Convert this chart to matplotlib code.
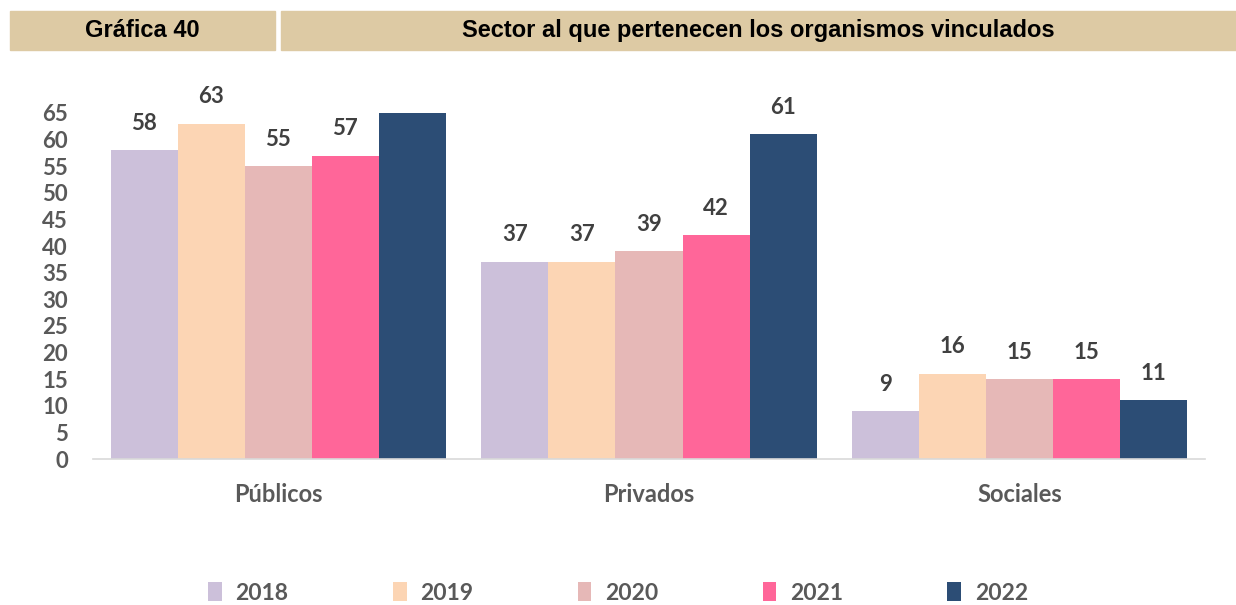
import numpy as np
import matplotlib.pyplot as plt
from matplotlib.patches import Rectangle

# sector data per year
sectores = ['Públicos', 'Privados', 'Sociales']
anios = ['2018', '2019', '2020', '2021', '2022']
v2018 = [58, 37, 9]
v2019 = [63, 37, 16]
v2020 = [55, 39, 15]
v2021 = [57, 42, 15]
v2022 = [65, 61, 11]
# the 2022 public bar carries no value label
sin_etiqueta = [(4, 0)]

colores = ['#CCC0DA', '#FCD5B4', '#E6B8B7', '#FF6699', '#2C4D75']
series = [v2018, v2019, v2020, v2021, v2022]

font = 'Lato'
gris = '#595959'

fig = plt.figure(figsize=(12.36, 6.05), dpi=100)

# header boxes
W, H = 1236.0, 605.0
def caja(x0, x1, texto):
    fig.patches.append(Rectangle((x0 / W, 1 - 50 / H), (x1 - x0) / W, 39 / H,
                                 transform=fig.transFigure, color='#DDCAA4', zorder=0))
    fig.text((x0 + x1) / 2 / W, 1 - 30.5 / H, texto, ha='center', va='center',
             fontsize=17, fontweight='bold', family='Liberation Sans', color='black')

caja(10, 275, 'Gráfica 40')
caja(281, 1236, 'Sector al que pertenecen los organismos vinculados')

ax = fig.add_axes([93 / W, (H - 459) / H, (1205 - 93) / W, (459 - 113) / H])

x = np.arange(len(sectores))
ancho = 0.181
for i, (vals, c) in enumerate(zip(series, colores)):
    pos = x + (i - 2) * ancho
    ax.bar(pos, vals, width=ancho, color=c, label=anios[i], zorder=2)
    for j, v in enumerate(vals):
        if (i, j) in sin_etiqueta:
            continue
        ax.annotate(str(v), (pos[j], v), xytext=(0, 19.5), textcoords='offset points',
                    ha='center', va='center', fontsize=16, fontweight='bold',
                    family=font, color='#404040', annotation_clip=False)

ax.set_xlim(-0.5, 2.5)
ax.set_ylim(0, 65)
ax.set_yticks(range(0, 66, 5))
ax.set_xticks(x)
ax.set_xticklabels(sectores)
for lbl in ax.get_yticklabels():
    lbl.set_fontsize(16)
for lbl in ax.get_xticklabels():
    lbl.set_fontsize(17)
for lbl in ax.get_yticklabels() + ax.get_xticklabels():
    lbl.set_family(font)
    lbl.set_fontweight('bold')
    lbl.set_color(gris)
ax.tick_params(axis='y', length=0, pad=18)
ax.tick_params(axis='x', length=0, pad=17)
for s in ['top', 'right', 'left']:
    ax.spines[s].set_visible(False)
ax.spines['bottom'].set_color('#D9D9D9')
ax.spines['bottom'].set_linewidth(1.2)

leg = fig.legend(loc='center', bbox_to_anchor=(0.5, 1 - 593 / H), ncol=5, frameon=False,
                 handlelength=0.6, handleheight=0.9, handletextpad=0.6, columnspacing=4.55,
                 borderpad=0.2, prop={'family': font, 'weight': 'bold', 'size': 16.5})
for t in leg.get_texts():
    t.set_color(gris)

fig.savefig('out.png', dpi=100)
